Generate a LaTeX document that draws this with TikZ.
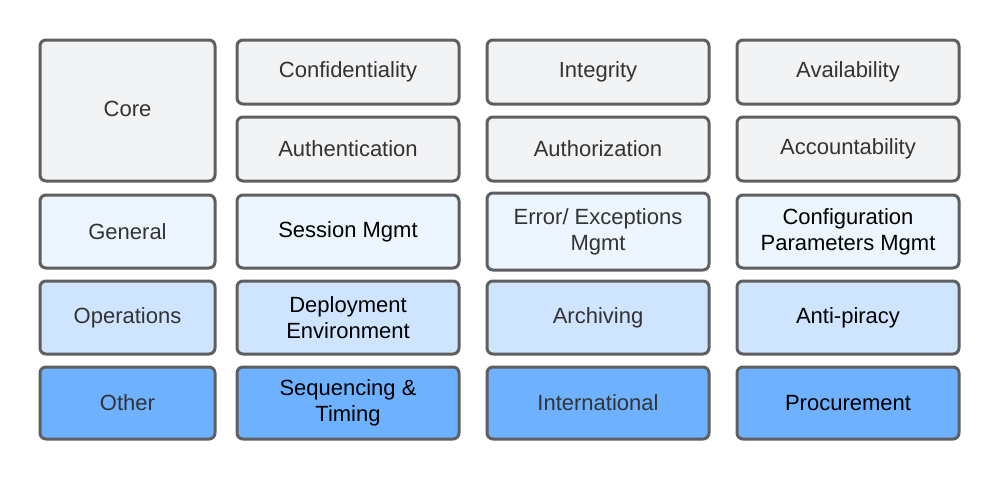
\documentclass[tikz,border=0pt]{standalone}
\usepackage{fontspec}
\setmainfont{Liberation Sans}
\definecolor{bordergray}{HTML}{5F5F5F}
\definecolor{txtgray}{HTML}{333333}
\definecolor{corefill}{HTML}{F2F3F5}
\definecolor{genfill}{HTML}{EDF5FF}
\definecolor{opsfill}{HTML}{CFE4FF}
\definecolor{othfill}{HTML}{6DB1FF}
\tikzset{
  box/.style={draw=bordergray, line width=3pt, rounded corners=6pt, text=txtgray,
    align=center, inner sep=0pt, outer sep=0pt,
    font=\fontsize{22}{26}\selectfont},
  wide/.style={minimum width=222pt},
  narrow/.style={minimum width=175pt},
  dark/.style={text=black},
  corebox/.style={box, fill=corefill},
  genbox/.style={box, fill=genfill, minimum height=73pt},
  opsbox/.style={box, fill=opsfill, minimum height=73pt},
  othbox/.style={box, fill=othfill, minimum height=72pt},
}
\begin{document}
\begin{tikzpicture}[x=1pt, y=-1pt]
\useasboundingbox (0,0) rectangle (1000,480);
\fill[white] (0,0) rectangle (1000,480);
% Core row
\node[corebox, narrow, minimum height=141pt] (core) at (127.5,110.5) {\raisebox{3pt}{Core}};
\node[corebox, wide, minimum height=64pt] (conf) at (348,72) {Confidentiality};
\node[corebox, wide, minimum height=64pt] (integ) at (598,72) {Integrity};
\node[corebox, wide, minimum height=64pt] (avail) at (848,72) {Availability};
\node[corebox, wide, minimum height=64pt] (authn) at (348,149) {Authentication};
\node[corebox, wide, minimum height=64pt] (authz) at (598,149) {Authorization};
\node[corebox, wide, minimum height=64pt] (acct) at (848,149) {Accountability};
% General row
\node[genbox, narrow] (general) at (127.5,231.5) {General};
\node[genbox, wide, dark] (session) at (348,231.5) {Session Mgmt};
\node[genbox, wide, minimum height=77pt] (error) at (598,231.5) {Error/ Exceptions\\Mgmt};
\node[genbox, wide, dark] (config) at (848,231.5) {Configuration\\Parameters Mgmt};
% Operations row
\node[opsbox, narrow] (ops) at (127.5,317.5) {Operations};
\node[opsbox, wide, dark] (deploy) at (348,317.5) {Deployment\\Environment};
\node[opsbox, wide] (archive) at (598,317.5) {Archiving};
\node[opsbox, wide, dark] (antipiracy) at (848,317.5) {Anti-piracy};
% Other row
\node[othbox, narrow] (other) at (127.5,403) {Other};
\node[othbox, wide, dark] (seq) at (348,403) {Sequencing \&\\Timing};
\node[othbox, wide] (intl) at (598,403) {International};
\node[othbox, wide, dark] (proc) at (848,403) {Procurement};
\end{tikzpicture}
\end{document}
